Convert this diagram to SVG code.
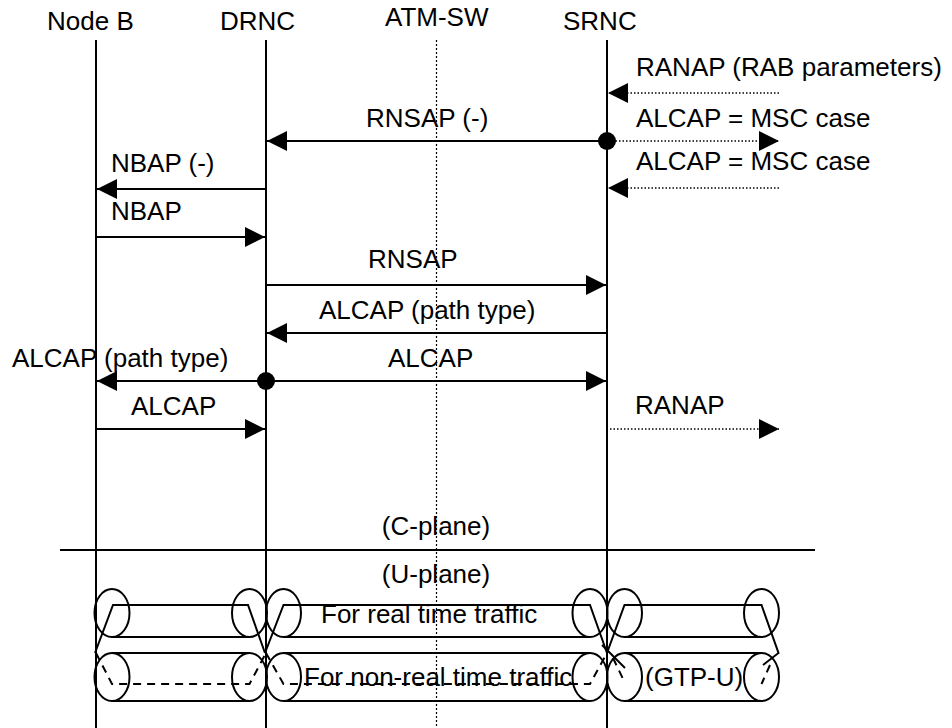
<svg xmlns="http://www.w3.org/2000/svg" width="952" height="728" viewBox="0 0 952 728">
<defs>
<marker id="ah" markerUnits="userSpaceOnUse" markerWidth="20" markerHeight="20" refX="20" refY="10" orient="auto" viewBox="0 0 20 20">
<path d="M0,0 L20,10 L0,20 z" fill="#000"/>
</marker>
</defs>
<style>
text{font-family:"Liberation Sans",Arial,sans-serif;font-size:26px;fill:#000}
.life{stroke:#000;stroke-width:2;fill:none}
.atm{stroke:#000;stroke-width:1.2;stroke-dasharray:2,2;fill:none}
.msg{stroke:#000;stroke-width:2;fill:none;marker-end:url(#ah)}
.dmsg{stroke:#000;stroke-width:1.5;stroke-dasharray:1.5,2;fill:none;marker-end:url(#ah)}
.dot{fill:#000}
.cyl{stroke:#000;stroke-width:2;fill:none}
.dash{stroke:#000;stroke-width:2;stroke-dasharray:8,6;fill:none}
</style>
<rect width="952" height="728" fill="#fff"/>
<g id="node-b"><text x="47" y="30">Node B</text><line class="life" x1="96" y1="40" x2="96" y2="728"/></g>
<g id="drnc"><text x="220" y="30">DRNC</text><line class="life" x1="266" y1="40" x2="266" y2="728"/></g>
<g id="atm-sw"><text x="385" y="26">ATM-SW</text><line class="atm" x1="436.5" y1="40" x2="436.5" y2="728"/></g>
<g id="srnc"><text x="563" y="30">SRNC</text><line class="life" x1="607" y1="40" x2="607" y2="728"/></g>
<g id="connectors">
<line class="dmsg" x1="779" y1="93" x2="608" y2="93"/>
<line class="msg" x1="607" y1="141" x2="267" y2="141"/>
<line class="dmsg" x1="612" y1="141" x2="779" y2="141"/>
<circle class="dot" cx="607" cy="141" r="9"/>
<line class="msg" x1="266" y1="189" x2="97" y2="189"/>
<line class="dmsg" x1="779" y1="188" x2="608" y2="188"/>
<line class="msg" x1="96" y1="237" x2="265" y2="237"/>
<line class="msg" x1="266" y1="285" x2="606" y2="285"/>
<line class="msg" x1="607" y1="333" x2="267" y2="333"/>
<line class="msg" x1="266" y1="381" x2="97" y2="381"/>
<line class="msg" x1="266" y1="381" x2="606" y2="381"/>
<circle class="dot" cx="266" cy="381" r="9"/>
<line class="msg" x1="96" y1="429" x2="265" y2="429"/>
<line class="dmsg" x1="610" y1="429" x2="779" y2="429"/>
<line class="life" x1="60" y1="550" x2="815" y2="550"/>
</g>
<g id="labels">
<text x="636" y="76">RANAP (RAB parameters)</text>
<text x="366" y="127">RNSAP (-)</text>
<text x="636" y="127">ALCAP = MSC case</text>
<text x="111" y="172">NBAP (-)</text>
<text x="636" y="170">ALCAP = MSC case</text>
<text x="111" y="220">NBAP</text>
<text x="368" y="268">RNSAP</text>
<text x="319" y="319">ALCAP (path type)</text>
<text x="12" y="367">ALCAP (path type)</text>
<text x="388" y="367">ALCAP</text>
<text x="131" y="415">ALCAP</text>
<text x="635" y="414">RANAP</text>
<text x="436" y="535" text-anchor="middle">(C-plane)</text>
<text x="436" y="583" text-anchor="middle">(U-plane)</text>
</g>
<g id="tube-left">
<ellipse class="cyl" cx="112" cy="613" rx="17.5" ry="24"/>
<ellipse class="cyl" cx="249.5" cy="613" rx="17.5" ry="24"/>
<line class="cyl" x1="112" y1="637" x2="249.5" y2="637"/>
<polyline class="cyl" points="95,653 113,605 248,605 265,653"/>
<ellipse class="cyl" cx="112" cy="677" rx="17.5" ry="24"/>
<ellipse class="cyl" cx="249.5" cy="677" rx="17.5" ry="24"/>
<line class="cyl" x1="112" y1="653" x2="249.5" y2="653"/>
<line class="cyl" x1="112" y1="701" x2="249.5" y2="701"/>
<polyline class="dash" points="96,653 112,684 249.5,684 266,653"/>
</g>
<g id="tube-mid">
<ellipse class="cyl" cx="283.5" cy="613" rx="17.5" ry="24"/>
<ellipse class="cyl" cx="590" cy="613" rx="17.5" ry="24"/>
<line class="cyl" x1="283.5" y1="637" x2="590" y2="637"/>
<polyline class="cyl" points="265,653 283.5,605 590,605 607,653"/>
<ellipse class="cyl" cx="283.5" cy="677" rx="17.5" ry="24"/>
<ellipse class="cyl" cx="590" cy="677" rx="17.5" ry="24"/>
<line class="cyl" x1="283.5" y1="653" x2="590" y2="653"/>
<line class="cyl" x1="283.5" y1="701" x2="590" y2="701"/>
<polyline class="dash" points="266,653 283.5,684 590,684 607,653"/>
<text x="321" y="623">For real time traffic</text>
<text x="304" y="686">For non-real time traffic</text>
</g>
<g id="tube-right">
<ellipse class="cyl" cx="624.5" cy="613" rx="17.5" ry="24"/>
<ellipse class="cyl" cx="761.5" cy="613" rx="17.5" ry="24"/>
<line class="cyl" x1="624.5" y1="637" x2="761.5" y2="637"/>
<polyline class="cyl" points="607,653 624.5,605 761.5,605 778.5,653 763,665"/>
<line class="cyl" x1="602" y1="645" x2="625" y2="668"/>
<ellipse class="cyl" cx="624.5" cy="677" rx="17.5" ry="24"/>
<ellipse class="cyl" cx="761.5" cy="677" rx="17.5" ry="24"/>
<line class="cyl" x1="624.5" y1="653" x2="761.5" y2="653"/>
<line class="cyl" x1="624.5" y1="701" x2="761.5" y2="701"/>
<line class="dash" x1="613" y1="658" x2="625" y2="683"/>
<line class="dash" x1="770" y1="665" x2="761.5" y2="684"/>
<text x="645" y="686">(GTP-U)</text>
</g>
</svg>
